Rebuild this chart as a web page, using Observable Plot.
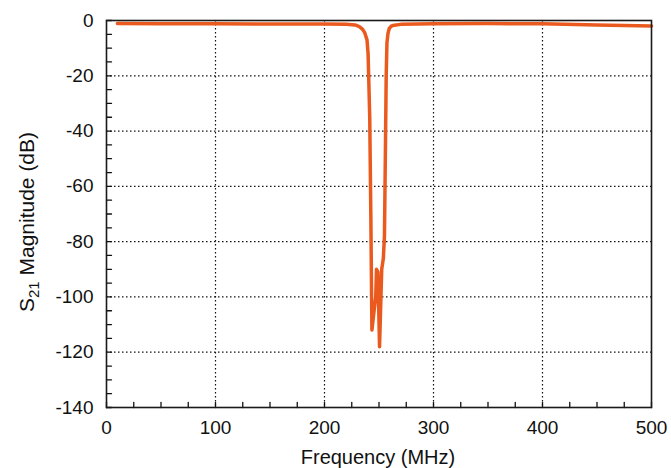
<!DOCTYPE html>
<html>
<head>
<meta charset="utf-8">
<script src="https://cdn.jsdelivr.net/npm/d3@7"></script>
<script src="https://cdn.jsdelivr.net/npm/@observablehq/plot@0.6"></script>
<style>
  html, body { margin: 0; padding: 0; background: #fff; }
  #chart { width: 671px; height: 468px; }
  svg { font-family: "Liberation Sans", Arial, Helvetica, sans-serif; }
</style>
</head>
<body>
<div id="chart"></div>
<script>
// Frequency (MHz)
const freq = [10, 50, 100, 150, 200, 220, 228, 232, 235, 237, 239, 240, 241.5, 242.5, 243.5,
  245.5, 247, 247.7, 249, 250.5, 252.5, 254, 255, 255.8, 256.6, 257.3, 258.3, 259.5, 261.5,
  264, 270, 300, 350, 400, 450, 500];
// S21 magnitude (dB)
const s21 = [-1.1, -1.2, -1.2, -1.3, -1.3, -1.4, -1.6, -2.2, -3.2, -4.5, -7, -12, -35, -70, -112,
  -105, -100, -90, -91, -118, -90, -86, -78, -50, -20, -8, -4.5, -2.8, -2.0,
  -1.7, -1.4, -1.2, -1.1, -1.2, -1.6, -2.0];

const xTicks = [0, 100, 200, 300, 400, 500];
const yTicks = [0, -20, -40, -60, -80, -100, -120, -140];
const xMinor = d3.range(0, 501, 25);
const yMinor = d3.range(-140, 1, 5);

const data = freq.map((f, i) => ({f, v: s21[i]}));

const stick = {draw(context, l) { context.moveTo(0, 0); context.lineTo(0, -l); }};

const chart = Plot.plot({
  width: 671,
  height: 468,
  marginLeft: 106,
  marginRight: 20,
  marginTop: 20,
  marginBottom: 61,
  style: {fontSize: "19px", fontFamily: "'Liberation Sans', Arial, sans-serif", color: "#111"},
  x: {domain: [0, 500]},
  y: {domain: [-140, 0]},
  marks: [
    Plot.gridX(xTicks.filter(d => d > 0 && d < 500), {stroke: "#111", strokeOpacity: 1, strokeWidth: 1.2, strokeDasharray: "1.5,2.5"}),
    Plot.gridY(yTicks.filter(d => d > -140 && d < 0), {stroke: "#111", strokeOpacity: 1, strokeWidth: 1.2, strokeDasharray: "1.5,2.5"}),
    Plot.vector(xMinor, {x: d => d, y: -140, length: 5, anchor: "start", shape: stick, stroke: "#111", strokeWidth: 1.3}),
    Plot.vector(yMinor, {x: 0, y: d => d, rotate: 90, length: 5, anchor: "start", shape: stick, stroke: "#111", strokeWidth: 1.3}),
    Plot.axisX(xTicks, {tickSize: 0, tickPadding: 13, label: null, fontSize: 19, tickFormat: d => String(d)}),
    Plot.axisY(yTicks, {tickSize: 0, tickPadding: 13, label: null, fontSize: 19, tickFormat: d => String(d)}),
    Plot.line(data, {x: "f", y: "v", stroke: "#ea5a1f", strokeWidth: 3.5, strokeLinejoin: "round", strokeLinecap: "round"}),
    Plot.frame({stroke: "#1a1a1a", strokeWidth: 1.6})
  ]
});

const svg = d3.select(chart);
svg.append("text")
  .attr("x", 378).attr("y", 464)
  .attr("text-anchor", "middle")
  .attr("font-size", 20).attr("fill", "#111")
  .text("Frequency (MHz)");

const yl = svg.append("text")
  .attr("transform", "translate(34,222) rotate(-90)")
  .attr("text-anchor", "middle")
  .attr("font-size", 21).attr("fill", "#111");
yl.append("tspan").text("S");
yl.append("tspan").attr("font-size", 15).attr("dy", 5).text("21");
yl.append("tspan").attr("dy", -5).text(" Magnitude (dB)");

document.getElementById("chart").appendChild(chart);
</script>
</body>
</html>
